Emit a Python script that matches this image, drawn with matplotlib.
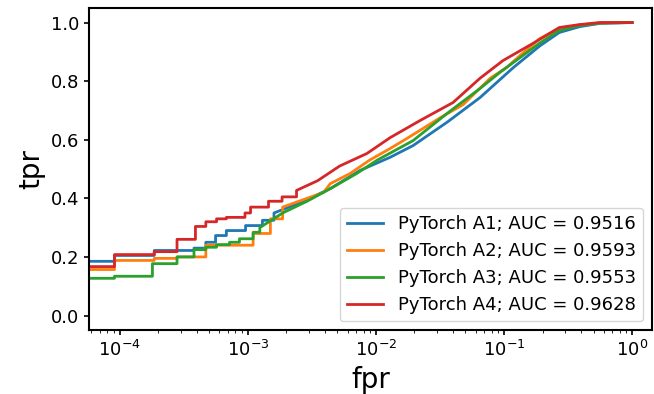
import numpy as np
import matplotlib
matplotlib.use('Agg')
import matplotlib.pyplot as plt

# ROC curves
# low-fpr region: step corners (fpr where tpr jumps, new tpr)
# upper region: dense, nearly smooth part of the curve
labels = ['PyTorch A1; AUC = 0.9516', 'PyTorch A2; AUC = 0.9593',
          'PyTorch A3; AUC = 0.9553', 'PyTorch A4; AUC = 0.9628']

a1_step_fpr = [1e-5, 9.1e-5, 1.86e-4, 3.8e-4, 4.7e-4, 5.6e-4, 6.8e-4, 9.6e-4, 1.3e-3]
a1_step_tpr = [0.185, 0.205, 0.222, 0.23, 0.25, 0.273, 0.29, 0.307, 0.325]
a1_fpr = [1.6e-3, 2.6e-3, 4.4e-3, 7.5e-3, 1.29e-2, 1.95e-2, 3.6e-2, 6.5e-2, 0.118, 0.19, 0.27, 0.39, 0.56, 1.0]
a1_tpr = [0.35, 0.386, 0.433, 0.495, 0.54, 0.58, 0.66, 0.744, 0.846, 0.92, 0.966, 0.986, 0.997, 1.0]

a2_step_fpr = [1e-5, 9.1e-5, 1.86e-4, 2.8e-4, 4.7e-4, 1.1e-3, 1.5e-3]
a2_step_tpr = [0.157, 0.188, 0.195, 0.2, 0.24, 0.28, 0.33]
a2_fpr = [1.87e-3, 2.9e-3, 3.9e-3, 4.4e-3, 6.3e-3, 8.9e-3, 1.29e-2, 1.74e-2, 3.2e-2, 4.8e-2, 7.8e-2, 0.105, 0.133, 0.19, 0.27, 0.39, 0.56, 1.0]
a2_tpr = [0.37, 0.40, 0.42, 0.45, 0.485, 0.53, 0.57, 0.604, 0.676, 0.72, 0.81, 0.847, 0.887, 0.945, 0.98, 0.992, 0.999, 1.0]

a3_step_fpr = [1e-5, 9.1e-5, 1.8e-4, 2.8e-4, 3.8e-4, 4.7e-4, 5.7e-4, 7.2e-4, 8.6e-4, 1.1e-3]
a3_step_tpr = [0.127, 0.134, 0.177, 0.2, 0.225, 0.233, 0.242, 0.25, 0.262, 0.284]
a3_fpr = [1.24e-3, 1.87e-3, 2.9e-3, 4.4e-3, 7.1e-3, 1.02e-2, 1.95e-2, 3.6e-2, 6.5e-2, 9.3e-2, 0.133, 0.19, 0.27, 0.39, 0.56, 1.0]
a3_tpr = [0.30, 0.35, 0.39, 0.433, 0.485, 0.53, 0.597, 0.69, 0.775, 0.83, 0.88, 0.93, 0.973, 0.99, 0.998, 1.0]

a4_step_fpr = [1e-5, 9.1e-5, 1.86e-4, 2.8e-4, 3.9e-4, 4.7e-4, 5.7e-4, 6.8e-4, 9.5e-4, 1.05e-3, 1.45e-3, 1.85e-3]
a4_step_tpr = [0.167, 0.208, 0.218, 0.26, 0.304, 0.32, 0.33, 0.335, 0.35, 0.37, 0.39, 0.405]
a4_fpr = [2.4e-3, 3.5e-3, 5.2e-3, 8.5e-3, 1.29e-2, 2.2e-2, 4.0e-2, 6.5e-2, 9.8e-2, 0.17, 0.27, 0.39, 0.56, 1.0]
a4_tpr = [0.427, 0.46, 0.51, 0.553, 0.607, 0.665, 0.727, 0.81, 0.87, 0.93, 0.983, 0.993, 1.0, 1.0]

series = [(a1_step_fpr, a1_step_tpr, a1_fpr, a1_tpr),
          (a2_step_fpr, a2_step_tpr, a2_fpr, a2_tpr),
          (a3_step_fpr, a3_step_tpr, a3_fpr, a3_tpr),
          (a4_step_fpr, a4_step_tpr, a4_fpr, a4_tpr)]


def roc_path(sx, sy, fx, fy):
    # turn step corners into a staircase, then append the smooth part
    xs, ys = [sx[0]], [sy[0]]
    for x, y in zip(sx[1:], sy[1:]):
        xs += [x, x]
        ys += [ys[-1], y]
    xs += [fx[0]] + list(fx)
    ys += [ys[-1]] + list(fy)
    return np.array(xs), np.array(ys)


fig = plt.figure(figsize=(6.54, 3.94), dpi=100)
ax = fig.add_axes([0.136, 0.162, 0.861, 0.818])

for (sx, sy, fx, fy), lab in zip(series, labels):
    x, y = roc_path(sx, sy, fx, fy)
    ax.plot(x, y, linewidth=2, label=lab)

ax.set_xscale('log')
ax.set_xlim(5.75e-5, 1.43)
ax.set_ylim(-0.05, 1.05)
ax.set_xlabel('fpr', fontsize=20)
ax.set_ylabel('tpr', fontsize=20)
ax.tick_params(labelsize=13, width=1.2)
for s in ax.spines.values():
    s.set_linewidth(1.5)
ax.legend(loc='lower right', fontsize=13)

fig.savefig('out.png', dpi=100)
